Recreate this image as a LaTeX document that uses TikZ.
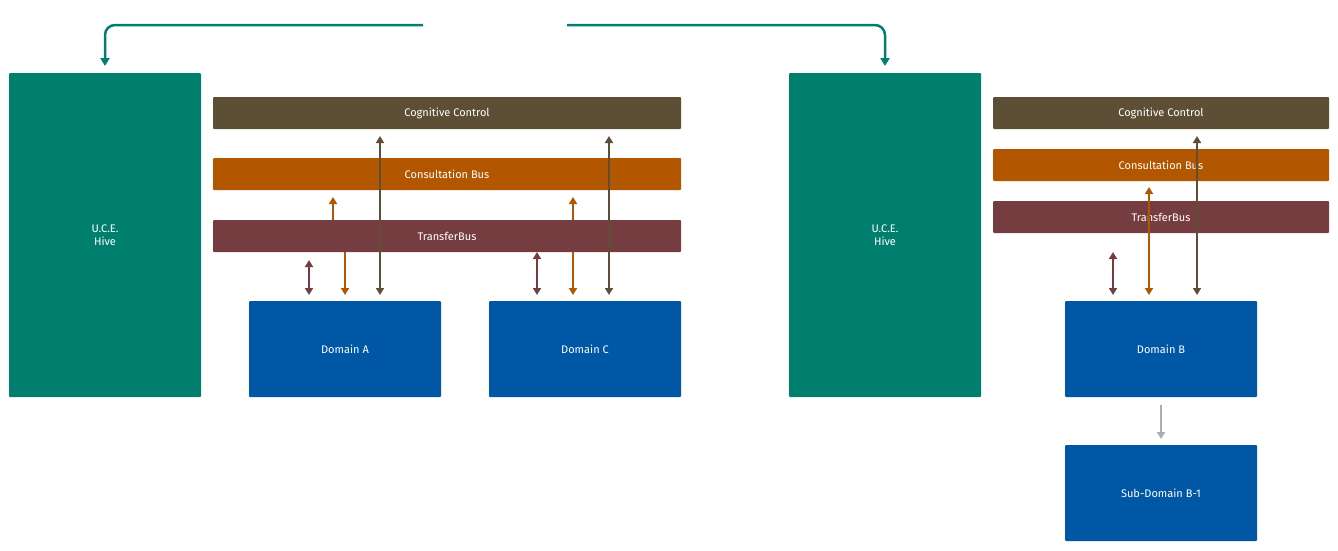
\documentclass[tikz,border=0pt]{standalone}
\usepackage{fontspec}
\setmainfont{Fira Sans}
\usetikzlibrary{arrows.meta}
\definecolor{teal}{HTML}{007F6E}
\definecolor{cbrown}{HTML}{5C4F36}
\definecolor{corange}{HTML}{B35600}
\definecolor{cmaroon}{HTML}{763D40}
\definecolor{cblue}{HTML}{0057A6}
\definecolor{cgrey}{HTML}{A6AEBB}
\begin{document}
\begin{tikzpicture}[x=1pt,y=-1pt,
 box/.style={draw=none,rounded corners=1pt,text=white,font=\fontsize{11}{13}\selectfont,align=center,inner sep=0pt},
 arr/.style={line width=2.2pt,-{Triangle[width=8pt,length=7pt]}},
 darr/.style={line width=2.2pt,{Triangle[width=8pt,length=7pt]}-{Triangle[width=8pt,length=7pt]}}]
\useasboundingbox (0,0) rectangle (1338,550);
\newcommand{\bx}[6]{\path[box,fill=#2] (#3,#4) rectangle node(#1){#6} (#5,#4+0) ;}
% boxes
\fill[teal,rounded corners=1pt] (9,73) rectangle (201,397); \node[box] (h1) at (105,235) {U.C.E.\\Hive};
\fill[teal,rounded corners=1pt] (789,73) rectangle (981,397); \node[box] (h2) at (885,235) {U.C.E.\\Hive};
\fill[cbrown,rounded corners=1pt] (213,97) rectangle (681,129); \node[box] (cc1) at (447,113) {Cognitive Control};
\fill[corange,rounded corners=1pt] (213,158) rectangle (681,190); \node[box] (cb1) at (447,174) {Consultation Bus};
\fill[cmaroon,rounded corners=1pt] (213,220) rectangle (681,252); \node[box] (tb1) at (447,236) {TransferBus};
\fill[cblue,rounded corners=1pt] (249,301) rectangle (441,397); \node[box] (da) at (345,349) {Domain A};
\fill[cblue,rounded corners=1pt] (489,301) rectangle (681,397); \node[box] (dc) at (585,349) {Domain C};
\fill[cbrown,rounded corners=1pt] (993,97) rectangle (1329,129); \node[box] (cc2) at (1161,113) {Cognitive Control};
\fill[corange,rounded corners=1pt] (993,149) rectangle (1329,181); \node[box] (cb2) at (1161,165) {Consultation Bus};
\fill[cmaroon,rounded corners=1pt] (993,201) rectangle (1329,233); \node[box] (tb2) at (1161,217) {TransferBus};
\fill[cblue,rounded corners=1pt] (1065,301) rectangle (1257,397); \node[box] (db) at (1161,349) {Domain B};
\fill[cblue,rounded corners=1pt] (1065,445) rectangle (1257,541); \node[box] (sb) at (1161,493) {Sub-Domain B-1};
% top connectors
\coordinate (t1) at (423,25); \coordinate (t2) at (567,25);
\draw[teal,line width=2.5pt,-{Triangle[width=9pt,length=8pt]},rounded corners=10pt] (t1) -- (105,25) -- (105,66);
\draw[teal,line width=2.5pt,-{Triangle[width=9pt,length=8pt]},rounded corners=10pt] (t2) -- (885,25) -- (885,66);
% left arrows
\draw[darr,cmaroon] (309,260) -- (309,295);
\draw[arr,corange] (345,252) -- (345,295);
\draw[arr,corange] (333,220) -- (333,197);
\draw[darr,cbrown] (380,295) -- (380,136);
\draw[darr,cmaroon] (537,252) -- (537,295);
\draw[arr,corange] (573,252) -- (573,295);
\draw[arr,corange] (573,220) -- (573,197);
\draw[darr,cbrown] (609,295) -- (609,136);
% right arrows
\draw[darr,cmaroon] (1113,252) -- (1113,295);
\draw[darr,corange] (1149,295) -- (1149,187);
\draw[darr,cbrown] (1197,295) -- (1197,136);
\draw[arr,cgrey] (1161,405) -- (1161,439);
\end{tikzpicture}
\end{document}
